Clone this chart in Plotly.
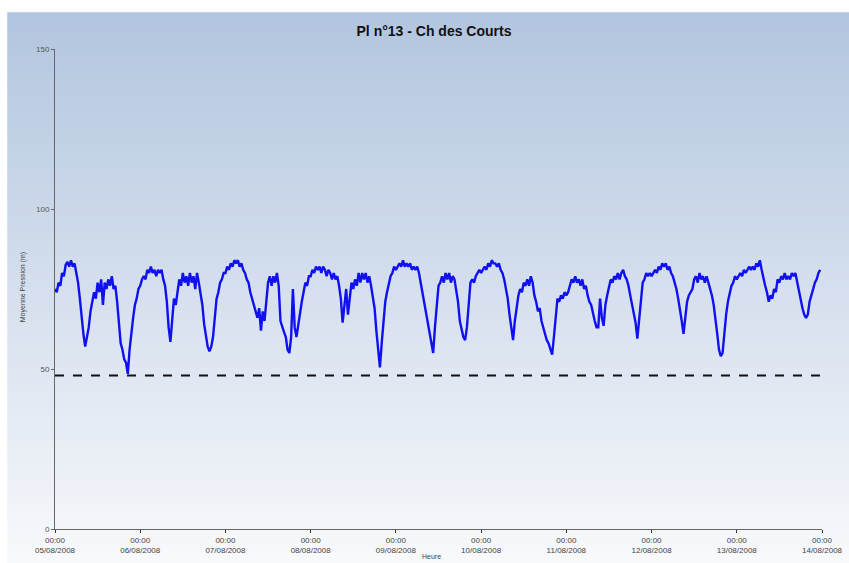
import plotly.graph_objects as go
import pandas as pd

# ---- data (30-minute steps) ----
start = "2008-08-05 00:00"
day1 = [75, 74, 77, 76, 80, 79, 82.5, 83.5, 82, 84, 82, 83, 80, 77, 72, 66, 61, 57, 60, 63, 68, 71, 74, 72,
        77, 74, 78, 70, 77, 75, 78, 76, 79, 75, 76, 71, 63, 58, 56, 53, 52, 48.5, 56, 62, 66, 70, 72, 75]
day2 = [76, 78, 79, 78, 81, 80, 82, 80, 81, 79, 81, 80, 81, 78, 76, 71, 63, 58.5, 66, 72, 70, 75, 78, 76,
        80, 77, 79, 76, 80, 77, 79, 75, 80, 77, 74, 70, 64, 61, 57, 55.5, 57, 60, 66, 72, 74, 77, 78, 80]
day3 = [80, 82, 81, 83, 82, 84, 83, 84, 82, 83, 81, 80, 78, 77, 74, 72, 70, 68, 66, 69, 62, 68, 65, 71,
        77, 79, 76, 79, 77, 80, 76, 65, 63, 61.5, 60, 56, 55, 60, 75, 63, 60, 64, 68, 71, 74, 77, 76, 79]
day4 = [79, 81, 80, 82, 81, 82, 80, 82, 81, 79, 81, 80, 78, 80, 78, 79, 76, 72, 64.5, 70, 75, 67, 72, 77,
        75, 78, 76, 80, 77, 80, 78, 80, 77, 79, 76, 73, 69, 62, 56, 50.5, 58, 64, 71, 74, 77, 79, 80, 82]
day5 = [81, 82, 83, 82, 84, 82, 83, 82, 83, 81, 82, 81, 82, 80, 77, 74, 71, 68, 65, 61, 58, 55, 63, 70,
        76, 77, 79, 77, 80, 78, 80, 77, 79, 78, 75, 71, 65, 62, 60, 59, 63, 70, 77, 78, 77, 79, 80, 81]
day6 = [80, 81, 82, 81, 83, 82, 84, 83, 83, 82, 83, 81, 80, 78, 75, 72, 67, 62, 59, 65, 70, 73, 75, 74,
        77, 76, 78, 76, 79, 77, 73, 71, 68, 69, 65, 63, 61, 59, 58, 56, 54.5, 60, 66, 72, 71, 73, 72, 74]
day7 = [73, 74, 76, 78, 77, 79, 77, 78, 76, 78, 75, 76, 73, 71, 70, 67, 65, 63, 63, 72, 66, 63.5, 70, 73,
        76, 78, 77, 79, 78, 80, 78, 80, 81, 79, 78, 76, 73, 70, 67, 64.5, 59.5, 65, 71, 77, 78, 80, 79, 80]
day8 = [79, 80, 81, 80, 82, 81, 83, 82, 83, 81, 82, 80, 79, 77, 75, 72, 69, 65, 61, 66, 71, 73, 74, 75,
        78, 79, 77, 80, 78, 79, 77, 79, 77, 75, 73, 70, 66, 61, 56, 54, 55, 62, 67, 71, 74, 76, 77, 79]
day9 = [78, 79, 80, 79, 81, 80, 81, 82, 81, 82, 81, 83, 82, 84, 81, 78, 76, 74, 71, 73, 72, 75, 74, 78,
        77, 79, 78, 80, 78, 79, 78, 80, 79, 80, 77, 75, 72, 69, 67, 66, 67, 71, 73, 75, 77, 78, 80, 81]
pressure = day1 + day2 + day3 + day4 + day5 + day6 + day7 + day8 + day9
times = pd.date_range(start, periods=len(pressure), freq="30min")

threshold = 48
tick_dates = pd.date_range("2008-08-05", "2008-08-14", freq="D")
tick_text = ["00:00<br>" + d.strftime("%d/%m/%Y") for d in tick_dates]
y_ticks = [0, 50, 100, 150]

title = "Pl n°13 - Ch des Courts"
y_title = "Moyenne Pression (m)"
x_title = "Heure"

# ---- figure ----
W, H = 855, 567
L, R, T, B = 55, 29, 49, 34
pw, ph = W - L - R, H - T - B

fig = go.Figure()
fig.add_trace(go.Scatter(x=times, y=pressure, mode="lines",
                         line=dict(color="#1010f0", width=2.4), showlegend=False))
fig.add_trace(go.Scatter(x=[times[0], times[-1]], y=[threshold, threshold], mode="lines",
                         line=dict(color="#111111", width=2, dash="dash"), showlegend=False))

# gradient background (strips)
shapes = []
top_px, bot_px = 12, H + 10
n = 90
c0 = (178, 197, 223)
c1 = (249, 250, 252)
for i in range(n):
    y0p = top_px + (bot_px - top_px) * i / n
    y1p = top_px + (bot_px - top_px) * (i + 1) / n + 0.8
    f = (i + 0.5) / n
    col = tuple(int(round(c0[k] + (c1[k] - c0[k]) * f)) for k in range(3))
    shapes.append(dict(type="rect", xref="paper", yref="paper", layer="below",
                       x0=(7 - L) / pw, x1=(W + 20 - L) / pw,
                       y0=(H - B - y1p) / ph, y1=(H - B - y0p) / ph,
                       line=dict(width=0), fillcolor="rgb(%d,%d,%d)" % col))

fig.update_layout(
    width=W, height=H, autosize=False,
    margin=dict(l=L, r=R, t=T, b=B),
    paper_bgcolor="white", plot_bgcolor="rgba(0,0,0,0)",
    shapes=shapes,
    title=dict(text="<b>" + title + "</b>", x=(434) / W, xanchor="center", y=1 - 31 / H, yanchor="middle",
               font=dict(family="Liberation Sans, Arial", size=14, color="#111111")),
    font=dict(family="Liberation Sans, Arial", size=8, color="#444444"),
    xaxis=dict(range=[tick_dates[0], tick_dates[-1]], tickvals=tick_dates, ticktext=tick_text,
               showgrid=False, zeroline=False, showline=True, linecolor="#666666", linewidth=1,
               ticks="outside", ticklen=3, tickcolor="#333333", tickfont=dict(size=8, color="#444444")),
    yaxis=dict(range=[0, 150], tickvals=y_ticks, showgrid=False, zeroline=False, showline=True,
               linecolor="#666666", linewidth=1, ticks="outside", ticklen=3, tickcolor="#666666",
               tickfont=dict(size=8, color="#555555")),
    annotations=[
        dict(text=y_title, xref="paper", yref="paper", x=(17 - L) / pw, y=(H - B - 289) / ph,
             textangle=-90, showarrow=False, font=dict(size=7, color="#444444")),
        dict(text=x_title, xref="paper", yref="paper", x=(433 - L) / pw, y=(H - B - 566) / ph,
             yanchor="bottom", showarrow=False, font=dict(size=7, color="#444444")),
    ],
)

fig.write_html("out.html", config={"displayModeBar": False, "responsive": False},
               post_script="document.body.style.margin='0px';document.body.style.overflow='hidden';")
